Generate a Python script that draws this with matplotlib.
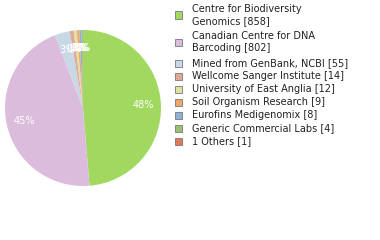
import numpy as np
import matplotlib.pyplot as plt
from matplotlib.patches import Rectangle

labels = ["Centre for Biodiversity\nGenomics [858]",
          "Canadian Centre for DNA\nBarcoding [802]",
          "Mined from GenBank, NCBI [55]",
          "Wellcome Sanger Institute [14]",
          "University of East Anglia [12]",
          "Soil Organism Research [9]",
          "Eurofins Medigenomix [8]",
          "Generic Commercial Labs [4]",
          "1 Others [1]"]
counts = [858, 802, 55, 14, 12, 9, 8, 4, 1]
colors = ["#a0d860", "#dcbcdc", "#c8d8e4", "#e0a898", "#e0e0a0",
          "#f0a868", "#90b0d8", "#98c070", "#e07858"]

W, H = 380, 240
fig = plt.figure(figsize=(W / 100, H / 100), dpi=100)

# pie: centre (83,108), radius 78 px
cx, cy, r = 83, 108, 78
ax = fig.add_axes([(cx - r) / W, 1 - (cy + r) / H, 2 * r / W, 2 * r / H])
wedges, _, autotexts = ax.pie(
    counts, colors=colors, startangle=90, counterclock=False,
    autopct=lambda p: f"{int(p)}%", pctdistance=0.77,
    wedgeprops=dict(linewidth=0),
    textprops=dict(color="white", fontsize=7))
ax.set_xlim(-1, 1)
ax.set_ylim(-1, 1)
ax.set_aspect("equal")
ax.axis("off")

# legend drawn by hand
fs = 7
y = 9
for lab, col in zip(labels, colors):
    lines = lab.split("\n")
    n = len(lines)
    for i, line in enumerate(lines):
        fig.text(192 / W, 1 - (y + 12 * i) / H, line, fontsize=fs,
                 va="center", ha="left", color="#222222")
    yc = y + 6 * (n - 1)
    fig.patches.append(Rectangle((175 / W, 1 - (yc + 3.5) / H), 7 / W, 7 / H,
                                 transform=fig.transFigure, facecolor=col,
                                 edgecolor="#777777", linewidth=0.6))
    y += 13 * n + (n - 1)

fig.savefig("out.png", dpi=100)
